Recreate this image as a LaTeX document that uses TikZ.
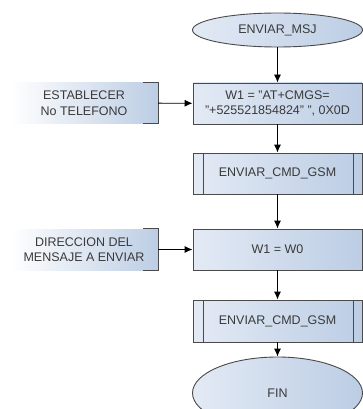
\documentclass[tikz,border=0pt]{standalone}
\usepackage{fontspec}
\setmainfont{Liberation Sans}
\usepackage{tikz}
\usetikzlibrary{shapes,arrows.meta}
\usetikzlibrary{positioning}
\definecolor{boxl}{HTML}{E3EAF5}
\definecolor{boxr}{HTML}{BCCDE4}
\definecolor{edge}{HTML}{4A4A4A}
\definecolor{txt}{HTML}{3A3A3A}
\tikzstyle{terminal} = [ellipse, draw=edge, line width=0.9pt, left color=boxl, right color=boxr, inner sep=0pt, minimum width=170pt, text=txt]
\tikzstyle{block} = [rectangle, draw=edge, line width=0.9pt, left color=boxl, right color=boxr, inner sep=0pt, minimum width=169pt, minimum height=41pt, align=center, text=txt]
\tikzstyle{dato} = [rectangle, left color=white, right color=boxr, inner sep=0pt, minimum width=148pt, minimum height=41pt, align=center, text=txt]

\begin{document}
\begin{tikzpicture}[x=1pt, y=-1pt, >={Latex[length=8pt,width=7pt]}, font=\fontsize{12.5}{15.5}\selectfont]
  \clip (0,0) rectangle (363,409);
  \useasboundingbox (0,0) rectangle (363,409);
  \node [terminal, minimum height=34pt] (msj) at (277.5,30) {ENVIAR\_MSJ};
  \node [block] (cmgs) at (277.5,103.5) {W1 = "AT+CMGS=\\"+525521854824" ", 0X0D};
  \node [block] (gsm1) at (277.5,173.5) {ENVIAR\_CMD\_GSM};
  \node [block] (w0) at (277.5,249.5) {W1 = W0};
  \node [block, minimum height=42pt] (gsm2) at (277.5,321) {ENVIAR\_CMD\_GSM};
  \node [terminal, minimum height=72pt] (fin) at (277.5,393) {FIN};
  \node [dato] (tel) at (84,103) {ESTABLECER\\No TELEFONO};
  \node [dato] (dir) at (84,249.5) {DIRECCION DEL\\MENSAJE A ENVIAR};
  % lineas del subproceso
  \foreach \p in {gsm1,gsm2} {
    \draw [edge, line width=0.9pt] ([xshift=11pt]\p.north west) -- ([xshift=11pt]\p.south west);
    \draw [edge, line width=0.9pt] ([xshift=-9pt]\p.north east) -- ([xshift=-9pt]\p.south east);
  }
  % corchete de los datos
  \foreach \d in {tel,dir}
    \draw [edge, line width=1.1pt] ([xshift=-15pt]\d.north east) -- (\d.north east) -- (\d.south east) -- ([xshift=-15pt]\d.south east);
  \draw [->, line width=0.9pt] (msj) -- (cmgs);
  \draw [->, line width=0.9pt] (cmgs) -- (gsm1);
  \draw [->, line width=0.9pt] (gsm1) -- (w0);
  \draw [->, line width=0.9pt] (w0) -- (gsm2);
  \draw [->, line width=0.9pt] (gsm2) -- (fin);
  \draw [->, line width=0.9pt] (tel) -- (cmgs);
  \draw [->, line width=0.9pt] (dir) -- (w0);
\end{tikzpicture}
\end{document}
